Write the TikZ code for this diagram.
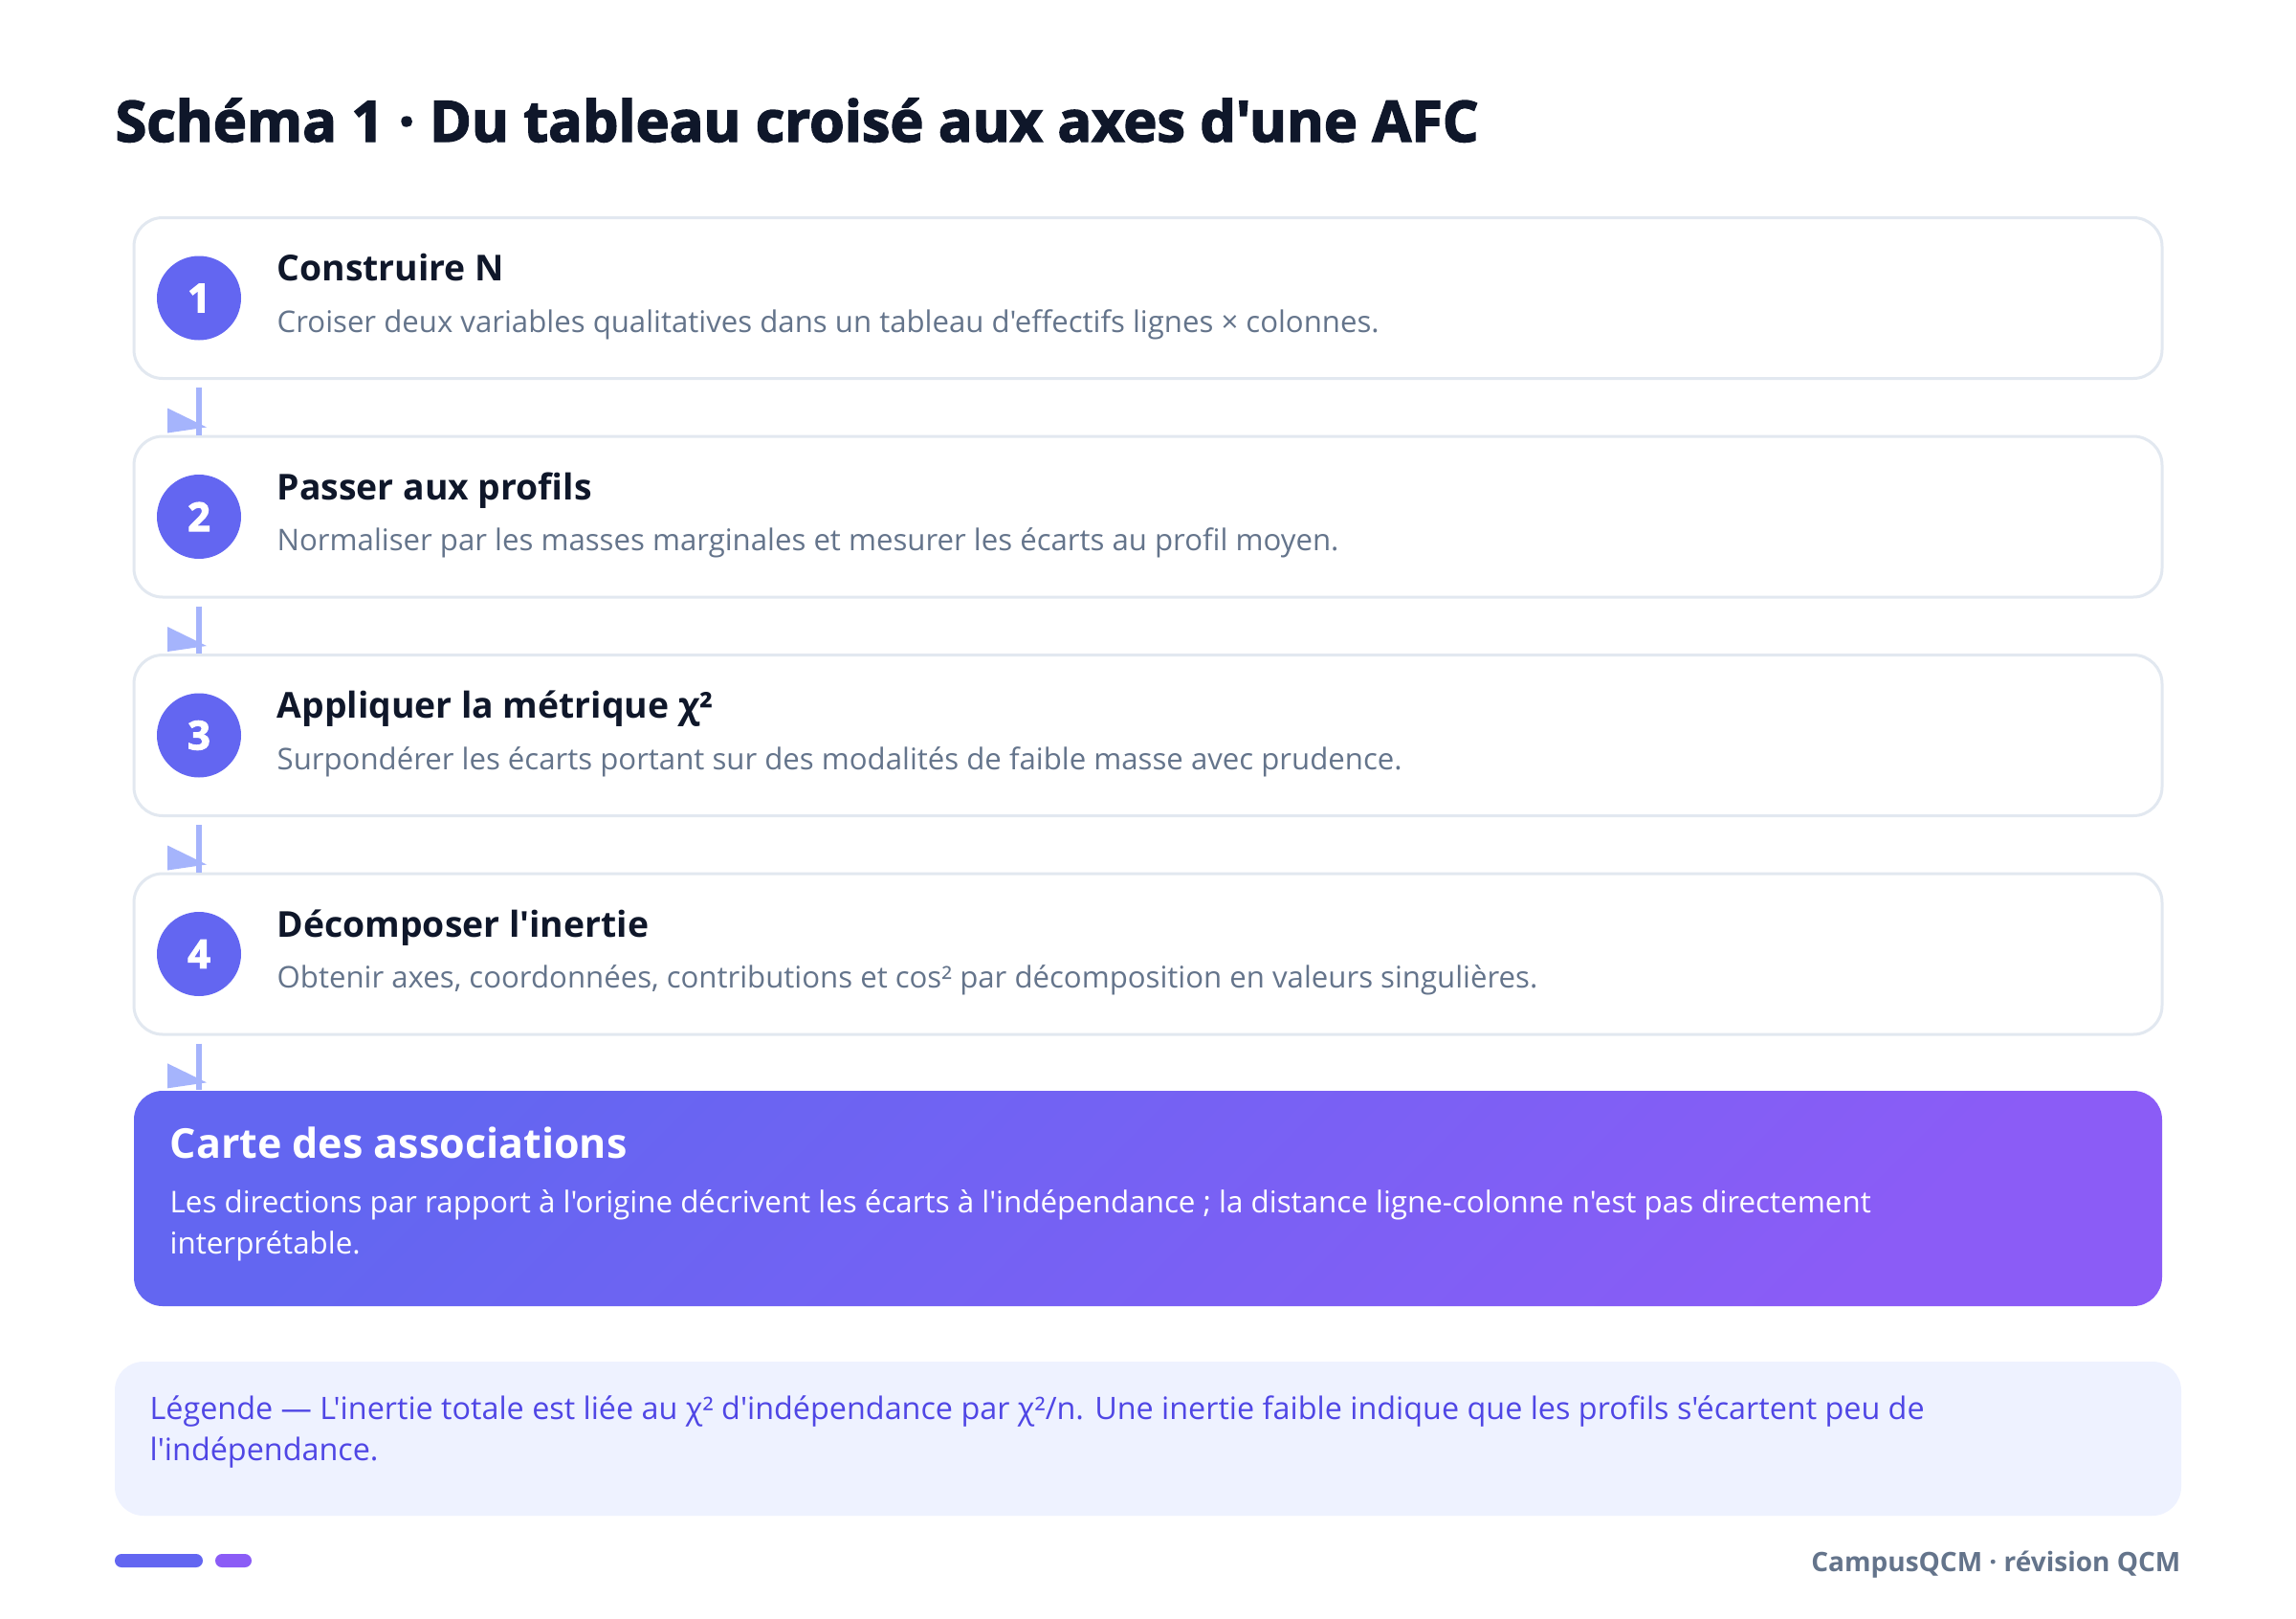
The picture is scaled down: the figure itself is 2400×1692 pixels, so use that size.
\documentclass[tikz,border=0pt]{standalone}
\usepackage{fontspec}
\setmainfont{Open Sans}[Ligatures=TeXOff]
\newfontfamily\titlefont{Open Sans}[Ligatures=TeXOff,BoldFeatures={FakeBold=2.5}]
\usetikzlibrary{calc,positioning}
\definecolor{ink}{HTML}{0F172A}
\definecolor{muted}{HTML}{64748B}
\definecolor{boxline}{HTML}{E2E8F0}
\definecolor{indigo}{HTML}{6366F1}
\definecolor{violet}{HTML}{8B5CF6}
\definecolor{arrowc}{HTML}{A5B4FC}
\definecolor{legendbg}{HTML}{EEF2FF}
\definecolor{legendtx}{HTML}{4F46E5}
\tikzset{
  stepbox/.style={draw=boxline, line width=0.9pt, fill=white, rounded corners=9pt,
    minimum width=636pt, minimum height=50.4pt, inner sep=0pt},
  stepnum/.style={circle, fill=indigo, text=white, minimum size=26.4pt, inner sep=0pt,
    font=\titlefont\fontsize{12.5}{14}\selectfont\bfseries},
  steptitle/.style={anchor=base west, inner sep=0pt, text=ink,
    font=\fontsize{11.2}{13}\selectfont\bfseries},
  stepdesc/.style={anchor=base west, inner sep=0pt, text=muted,
    font=\fontsize{9.35}{11}\selectfont},
  conn/.style={draw=arrowc, line width=1.8pt},
  connhead/.style={fill=arrowc},
  mapbox/.style={rounded corners=9pt, minimum width=636pt, minimum height=67.5pt,
    inner sep=0pt, top color=indigo, bottom color=violet, shading angle=45},
  maptitle/.style={anchor=base west, inner sep=0pt, text=white,
    font=\fontsize{12.9}{15}\selectfont\bfseries},
  maptext/.style={anchor=base west, inner sep=0pt, text=white,
    font=\fontsize{9.4}{11}\selectfont},
  legendbox/.style={fill=legendbg, rounded corners=9pt, minimum width=648pt,
    minimum height=48.3pt, inner sep=0pt},
  legendtext/.style={anchor=base west, inner sep=0pt, text=legendtx,
    font=\fontsize{9.7}{11}\selectfont},
}
\begin{document}
\begin{tikzpicture}[x=0.3pt,y=-0.3pt]
	\useasboundingbox (0,0) rectangle (2400,1692);
	\fill[white] (0,0) rectangle (2400,1692);
	\node[anchor=base west, inner sep=0pt, text=ink, font=\titlefont\fontsize{17.8}{21}\selectfont\bfseries] (title) at (120,148) {Schéma 1 · Du tableau croisé aux axes d'une AFC};
	% les quatre etapes
	\node[stepbox] (s1) at (1200,311.5) {};
	\node[stepbox] (s2) at (1200,540) {};
	\node[stepbox] (s3) at (1200,768.5) {};
	\node[stepbox] (s4) at (1200,997) {};
	\node[stepnum] (n1) at (208,311.5) {1};
	\node[stepnum] (n2) at (208,540) {2};
	\node[stepnum] (n3) at (208,768.5) {3};
	\node[stepnum] (n4) at (208,997) {4};
	\node[steptitle] (h1) at (289,293.5) {Construire N};
	\node[stepdesc] (d1) at (289,347) {Croiser deux variables qualitatives dans un tableau d'effectifs lignes × colonnes.};
	\node[steptitle] (h2) at (289,522) {Passer aux profils};
	\node[stepdesc] (d2) at (289,575.5) {Normaliser par les masses marginales et mesurer les écarts au profil moyen.};
	\node[steptitle] (h3) at (289,750.5) {Appliquer la métrique χ²};
	\node[stepdesc] (d3) at (289,804) {Surpondérer les écarts portant sur des modalités de faible masse avec prudence.};
	\node[steptitle] (h4) at (289,979) {Décomposer l'inertie};
	\node[stepdesc] (d4) at (289,1032.5) {Obtenir axes, coordonnées, contributions et cos² par décomposition en valeurs singulières.};
	% resultat
	\node[mapbox] (m) at (1200,1252.5) {};
	\node[maptitle] (mt) at (177,1210) {Carte des associations};
	\node[maptext] (m1) at (177,1267) {Les directions par rapport à l'origine décrivent les écarts à l'indépendance ; la distance ligne-colonne n'est pas directement};
	\node[maptext] (m2) at (177,1310) {interprétable.};
	% fleches
	\draw[conn] ($(n1 |- s1.south)+(0,8)$) -- (n1 |- s2.north);
	\fill[connhead] ($(n1 |- s2.north)+(-33,-28)$) -- ++(0,26) -- ++(41,-6) -- cycle;
	\draw[conn] ($(n2 |- s2.south)+(0,8)$) -- (n2 |- s3.north);
	\fill[connhead] ($(n2 |- s3.north)+(-33,-28)$) -- ++(0,26) -- ++(41,-6) -- cycle;
	\draw[conn] ($(n3 |- s3.south)+(0,8)$) -- (n3 |- s4.north);
	\fill[connhead] ($(n3 |- s4.north)+(-33,-28)$) -- ++(0,26) -- ++(41,-6) -- cycle;
	\draw[conn] ($(n4 |- s4.south)+(0,8)$) -- (n4 |- m.north);
	\fill[connhead] ($(n4 |- m.north)+(-33,-28)$) -- ++(0,26) -- ++(41,-6) -- cycle;
	% legende
	\node[legendbox] (leg) at (1200,1503.5) {};
	\node[legendtext] (l1) at (156,1483) {Légende — L'inertie totale est liée au χ² d'indépendance par χ²/n. Une inertie faible indique que les profils s'écartent peu de};
	\node[legendtext] (l2) at (156,1526) {l'indépendance.};
	% pied de page
	\fill[indigo, rounded corners=2.1pt] (120,1624) rectangle (212,1638);
	\fill[violet, rounded corners=2.1pt] (225,1624) rectangle (263,1638);
	\node[anchor=base east, inner sep=0pt, text=muted, font=\fontsize{8.4}{10}\selectfont\bfseries] (foot) at (2280,1642) {CampusQCM · révision QCM};
\end{tikzpicture}
\end{document}
